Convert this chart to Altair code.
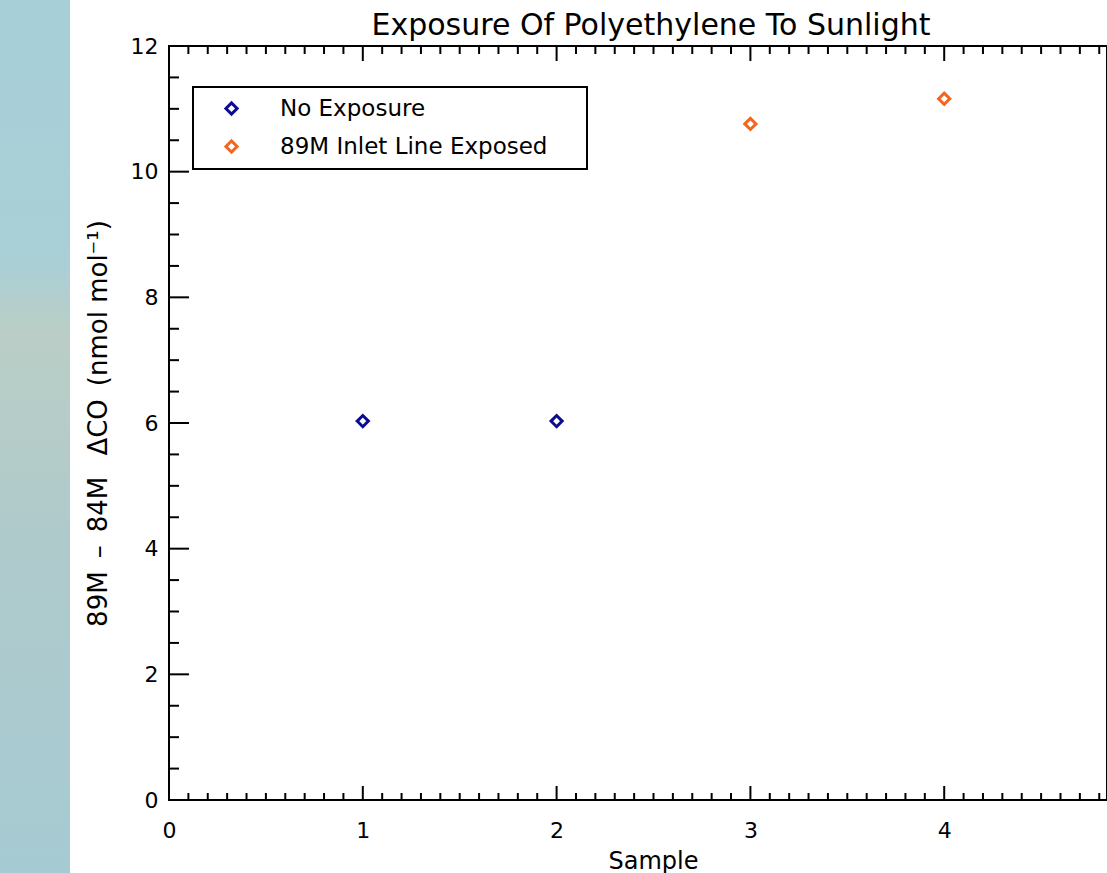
import altair as alt
import pandas as pd

# ---- data ----
samples = [1, 2, 3, 4]
delta_co = [6.03, 6.03, 10.76, 11.16]
groups = ["No Exposure", "No Exposure", "89M Inlet Line Exposed", "89M Inlet Line Exposed"]
group_order = ["No Exposure", "89M Inlet Line Exposed"]
group_colors = ["#0b0b94", "#f2661e"]

x_major = [0, 1, 2, 3, 4]
x_minor = [round(i * 0.1, 1) for i in range(1, 49) if i % 10]
y_major = [0, 2, 4, 6, 8, 10, 12]
y_minor = [i * 0.5 for i in range(1, 24) if i % 4]

title_text = "Exposure Of Polyethylene To Sunlight"
x_title = "Sample"
y_title = "89M\u2002\u2013\u200284M\u2002\u00a0\u0394CO\u2002(nmol\u00a0mol\u207b\u00b9)"

FONT = "DejaVu Sans"
W, H = 938, 754

df = pd.DataFrame({"sample": samples, "value": delta_co, "group": groups})

xscale = alt.Scale(domain=[0, 4.84], nice=False, zero=False)
yscale = alt.Scale(domain=[0, 12], nice=False)

points = alt.Chart(df).mark_point(
    shape="diamond", filled=False, strokeWidth=3, size=125, opacity=1
).encode(
    x=alt.X("sample:Q", scale=xscale, axis=alt.Axis(
        values=x_major, ticks=False, grid=False, domain=False,
        labelFont=FONT, labelFontSize=22, labelColor="black", labelPadding=20,
        labelFlush=False, format="d",
        title=x_title, titleFont=FONT, titleFontSize=24, titleFontWeight="normal",
        titleColor="black", titleX=484, titleY=49, titleBaseline="top")),
    y=alt.Y("value:Q", scale=yscale, axis=alt.Axis(
        values=y_major, ticks=False, grid=False, domain=False,
        labelFont=FONT, labelFontSize=22, labelColor="black", labelPadding=11,
        labelFlush=False, format="d",
        title=y_title, titleFont=FONT, titleFontSize=26, titleFontWeight="normal",
        titleColor="black", titleX=-71, titleY=H / 2, titleAngle=270,
        titleBaseline="middle", titleAlign="center")),
    color=alt.Color("group:N", scale=alt.Scale(domain=group_order, range=group_colors),
                    sort=group_order,
                    legend=alt.Legend(
                        title=None, orient="none", legendX=24, legendY=41,
                        strokeColor="black", fillColor="white", padding=10,
                        symbolType="diamond", symbolSize=125, symbolStrokeWidth=3,
                        symbolOffset=17, labelOffset=37, rowPadding=13,
                        labelFont=FONT, labelFontSize=23, labelColor="black",
                        labelExpr="datum.label + '\u00a0\u00a0\u00a0\u00a0\u200b'",
                        labelLimit=500)),
)


def xticks(vals, y0, y1):
    return alt.Chart(pd.DataFrame({"sample": vals})).mark_rule(
        color="black", strokeWidth=2).encode(
        x=alt.X("sample:Q", scale=xscale), y=alt.value(y0), y2=alt.value(y1))


def yticks(vals, length):
    return alt.Chart(pd.DataFrame({"value": vals})).mark_rule(
        color="black", strokeWidth=2).encode(
        y=alt.Y("value:Q", scale=yscale), x=alt.value(0), x2=alt.value(length))


strip = alt.Chart(pd.DataFrame({"k": [0]})).mark_rect(
    fill=alt.Gradient(
        gradient="linear",
        stops=[alt.GradientStop(color="#a7cfd8", offset=0),
               alt.GradientStop(color="#aacfd6", offset=0.3),
               alt.GradientStop(color="#bacec6", offset=0.38),
               alt.GradientStop(color="#b0cacb", offset=0.6),
               alt.GradientStop(color="#a6cad3", offset=1)],
        x1=0, x2=0, y1=0, y2=1),
    clip=False,
).encode(x=alt.value(-169), x2=alt.value(-99), y=alt.value(-46), y2=alt.value(873 - 46))

chart = alt.layer(
    strip,
    xticks(x_major, H, H - 14), xticks(x_minor, H, H - 7),
    xticks(x_major, 0, 15), xticks(x_minor, 0, 8),
    yticks(y_major, 20), yticks(y_minor, 10),
    points,
).properties(
    width=W, height=H,
    title=alt.Title(title_text, font=FONT, fontSize=30, fontWeight="normal",
                    color="black", anchor="middle", frame="group", dx=13,
                    dy=46, offset=5),
    autosize=alt.AutoSizeParams(type="none"),
    padding={"left": 169, "top": 46, "right": 0, "bottom": 73},
    background="white",
).configure_view(
    stroke="black", strokeWidth=2
).configure_legend(strokeWidth=2)

chart.save("out.html", embed_options={"renderer": "svg", "actions": False})
